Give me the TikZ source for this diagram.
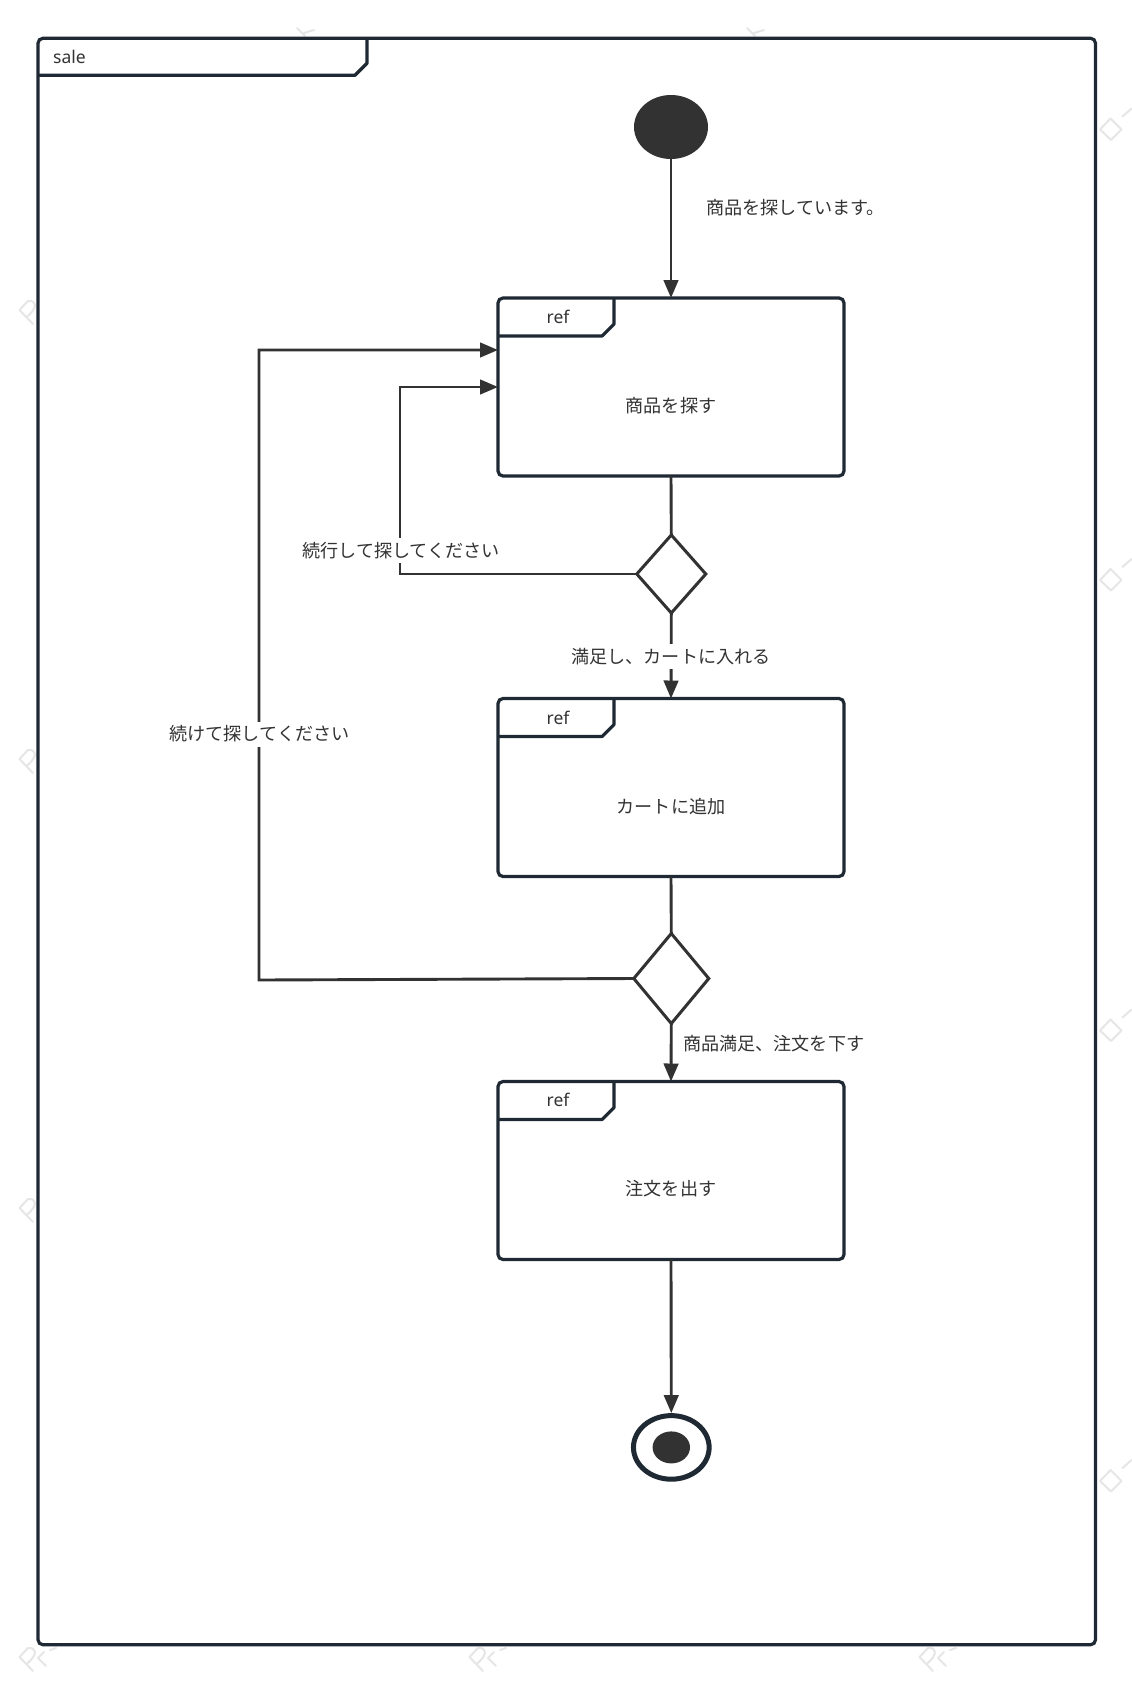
\documentclass[tikz,border=0pt]{standalone}
\usepackage{fontspec}
\setmainfont{Noto Sans}
\newfontfamily\cjk{Noto Sans CJK JP}
\usetikzlibrary{arrows.meta,shapes.geometric,calc}
\definecolor{framec}{HTML}{1F2933}
\definecolor{linec}{HTML}{323232}
\definecolor{textc}{HTML}{333333}
\definecolor{wmark}{HTML}{E6E6E6}
\tikzset{
  x=1pt,y=-1pt,
  txt/.style={text=textc,font=\fontsize{18.1}{20}\selectfont\cjk,inner sep=0pt},
  lat/.style={text=textc,font=\fontsize{17.5}{20}\selectfont,inner sep=0pt},
  gaplabel/.style={txt,fill=white,minimum height=25pt},
  framebox/.style={draw=framec,line width=3.2pt,fill=white,rounded corners=5pt,inner sep=0pt,outer sep=0pt},
  refbox/.style={framebox,minimum width=346pt,minimum height=178pt},
  tabline/.style={draw=framec,line width=3.2pt,line join=round},
  conn/.style={draw=linec,line width=2.9pt},
  arr/.style={conn,-{Triangle[length=18pt,width=14.5pt]}},
  decision/.style={diamond,draw=linec,line width=3pt,fill=white,inner sep=0pt,outer sep=0pt},
  wm/.style={draw=wmark,line width=2pt,line cap=round,line join=round},
}
\newcommand{\tabof}[1]{%
  \draw[tabline] ($(#1.north west)+(116,0)$) -- ++(0,26) -- ++(-12,12) -- ($(#1.north west)+(0,38)$);
}
\begin{document}
\begin{tikzpicture}
\useasboundingbox (0,0) rectangle (1132,1682);
\fill[white] (0,0) rectangle (1132,1682);
% faint remains of the background marks
\foreach \k in {0,1,2,3} {
  \draw[wm,shift={(0,450.5*\k)}] (1100,129.5) -- (1110.5,118.5) -- (1121.5,129.5) -- (1111,140) -- cycle;
  \draw[wm,shift={(0,450.5*\k)}] (1122.5,116.5) -- (1131.5,108.5);
}
\foreach \k in {0,1,2,3} {
  \draw[wm,shift={(0,-449*\k)}] (19.5,1657) -- (33,1671);
  \draw[wm,shift={(0,-449*\k)}] (19.5,1657) -- (28,1648) .. controls (36,1647) and (39,1654) .. (26.5,1664);
}
\foreach \k in {1,2} {
  \draw[wm,shift={(450*\k,0)}] (19.5,1657) -- (33,1671);
  \draw[wm,shift={(450*\k,0)}] (19.5,1657) -- (28,1648) .. controls (36,1647) and (39,1654) .. (26.5,1664);
}
\foreach \k in {0,1,2} {
  \draw[wm,shift={(450*\k,0)}] (38,1658) -- (46,1666);
  \draw[wm,shift={(450*\k,0)}] (38,1658) -- (44,1652);
  \draw[wm,shift={(450*\k,0)}] (50,1650) -- (56,1648);
}
\foreach \k in {0,1} {
  \draw[wm,shift={(450*\k,0)}] (297,28) -- (305,36);
  \draw[wm,shift={(450*\k,0)}] (304,33) -- (314,30);
}
% outer frame
\node[framebox,minimum width=1057.5pt,minimum height=1606.5pt] (frame) at (566.75,841.5) {};
\draw[tabline] ($(frame.north west)+(329,0)$) -- ++(0,25) -- ++(-12,12) -- ($(frame.north west)+(0,37)$);
\node[lat,anchor=west] (framelabel) at (53,57) {sale};
% nodes
\node[ellipse,fill=linec,inner sep=0pt,outer sep=0pt,minimum width=74pt,minimum height=64pt] (init) at (671,127) {};
\node[refbox] (b1) at (671,387) {};
\node[refbox] (b2) at (671,787.5) {};
\node[refbox] (b3) at (671,1170.5) {};
\tabof{b1}\tabof{b2}\tabof{b3}
\node[lat] (r1) at (558,317) {ref};
\node[lat] (r2) at (558,718) {ref};
\node[lat] (r3) at (558,1100) {ref};
\node[txt] (t1) at (671,406) {商品を探す};
\node[txt] (t2) at (671,807) {カートに追加};
\node[txt] (t3) at (671,1189) {注文を出す};
\node[decision,minimum width=69pt,minimum height=78pt] (d1) at (671.3,574) {};
\node[decision,minimum width=75pt,minimum height=90pt] (d2) at (671.3,978.5) {};
\node[ellipse,draw=framec,line width=5pt,fill=white,inner sep=0pt,outer sep=2.5pt,minimum width=75.7pt,minimum height=63.6pt] (fin) at (671.3,1447.4) {};
\node[ellipse,fill=linec,inner sep=0pt,outer sep=0pt,minimum width=37.4pt,minimum height=32pt] (fincore) at (671.3,1447.4) {};
% turning points
\coordinate (c1) at (259,980);
\coordinate (c2) at (400,574);
% connectors
\draw[arr] (init.south) -- (b1.north);
\draw[conn] (b1.south) -- (d1.north);
\draw[arr] (d1.south) -- (b2.north);
\draw[conn] (b2.south) -- (d2.north);
\draw[arr] (d2.south) -- (b3.north);
\draw[arr] (b3.south) -- (fin.north);
\draw[arr,line join=miter] (d1.west) -- (c2) |- (b1.west);
\draw[arr,line join=miter] (d2.west) -- (c1) |- ($(b1.west)+(0,-37)$);
% connector labels
\node[txt,anchor=west] (l1) at (706,208) {商品を探しています。};
\node[gaplabel] (l2) at (401,550.5) {続行して探してください};
\node[gaplabel] (l3) at (671,656.5) {満足し、カートに入れる};
\node[gaplabel] (l4) at (259.5,734) {続けて探してください};
\node[txt,anchor=west] (l5) at (683,1044) {商品満足、注文を下す};
\end{tikzpicture}
\end{document}
